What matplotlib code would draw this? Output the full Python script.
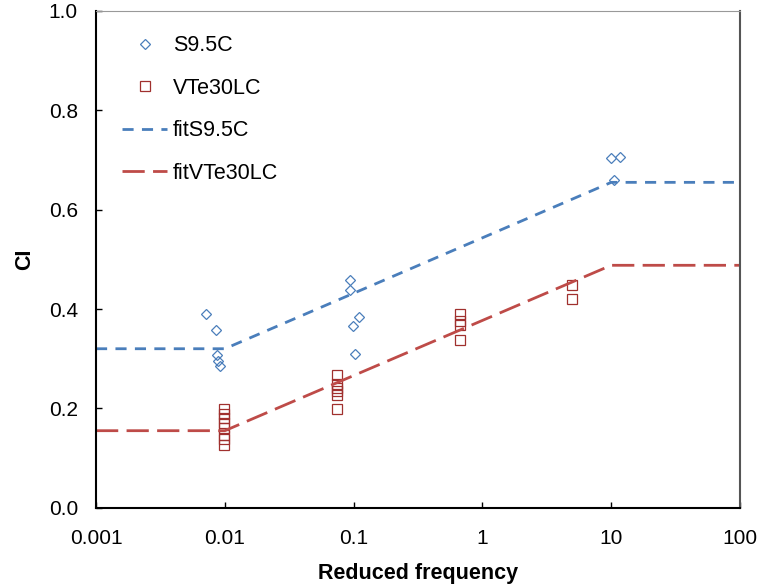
import matplotlib
matplotlib.use('Agg')
import matplotlib.pyplot as plt
import numpy as np

plt.rcParams['font.family'] = ['Liberation Sans', 'DejaVu Sans']

# Measured CI values vs reduced frequency
s95_freq = [0.0072, 0.0086, 0.0087, 0.0088, 0.0092,
            0.094, 0.093, 0.111, 0.0995, 0.1025,
            9.9, 11.6, 10.5]
s95_ci = [0.389, 0.358, 0.308, 0.295, 0.286,
          0.459, 0.439, 0.384, 0.366, 0.309,
          0.704, 0.706, 0.659]

vte_freq = [0.0098] * 8 + [0.0747] * 6 + [0.67] * 4 + [5.0] * 2
vte_ci = [0.199, 0.189, 0.181, 0.171, 0.161, 0.147, 0.139, 0.127,
          0.268, 0.249, 0.241, 0.234, 0.226, 0.199,
          0.390, 0.376, 0.368, 0.338,
          0.448, 0.420]

# Piecewise fits (flat - log-linear - flat)
fit_freq = [0.001, 0.01, 10, 100]
fit_s95 = [0.32, 0.32, 0.655, 0.655]
fit_vte = [0.155, 0.155, 0.488, 0.488]

blue = '#4A7EBB'
red_line = '#BE4B48'
red_mark = '#A0302E'

fig = plt.figure(figsize=(7.59, 5.88), dpi=100)
ax = fig.add_axes([0.1265, 0.1366, 0.8485, 0.8447])

ax.plot(s95_freq, s95_ci, linestyle='none', marker='D', markersize=5.4,
        markerfacecolor='none', markeredgecolor=blue, markeredgewidth=0.9, label='S9.5C')
ax.plot(vte_freq, vte_ci, linestyle='none', marker='s', markersize=7.2,
        markerfacecolor='none', markeredgecolor=red_mark, markeredgewidth=0.9, label='VTe30LC')
ax.plot(fit_freq, fit_s95, color=blue, linewidth=2.0, dashes=(4, 3), label='fitS9.5C')
ax.plot(fit_freq, fit_vte, color=red_line, linewidth=2.0, dashes=(8, 3), label='fitVTe30LC')

ax.set_xscale('log')
ax.set_xlim(0.001, 100)
ax.set_ylim(0, 1.0)
ax.set_xticks([0.001, 0.01, 0.1, 1, 10, 100])
ax.set_xticklabels(['0.001', '0.01', '0.1', '1', '10', '100'])
ax.set_yticks(np.arange(0, 1.01, 0.2))
ax.set_yticklabels([f'{v:.1f}' for v in np.arange(0, 1.01, 0.2)])
ax.minorticks_off()
ax.tick_params(axis='both', direction='in', length=4, width=1, labelsize=15)
ax.tick_params(axis='x', pad=15)
ax.tick_params(axis='y', pad=13)

for side in ['left', 'bottom']:
    ax.spines[side].set_linewidth(1.5)
    ax.spines[side].set_color('black')
ax.spines['right'].set_color('#555555')
ax.spines['right'].set_linewidth(1.5)
ax.spines['top'].set_color('#999999')
ax.spines['top'].set_linewidth(0.8)

ax.set_xlabel('Reduced frequency', fontsize=15.5, fontweight='bold', labelpad=11)
ax.set_ylabel('CI', fontsize=15.5, fontweight='bold', labelpad=10)

ax.legend(loc='upper left', bbox_to_anchor=(0.0102, 0.99), frameon=False,
          fontsize=15.5, handlelength=2.1, handletextpad=0.28, labelspacing=1.0)

fig.savefig('out.png', dpi=100)
